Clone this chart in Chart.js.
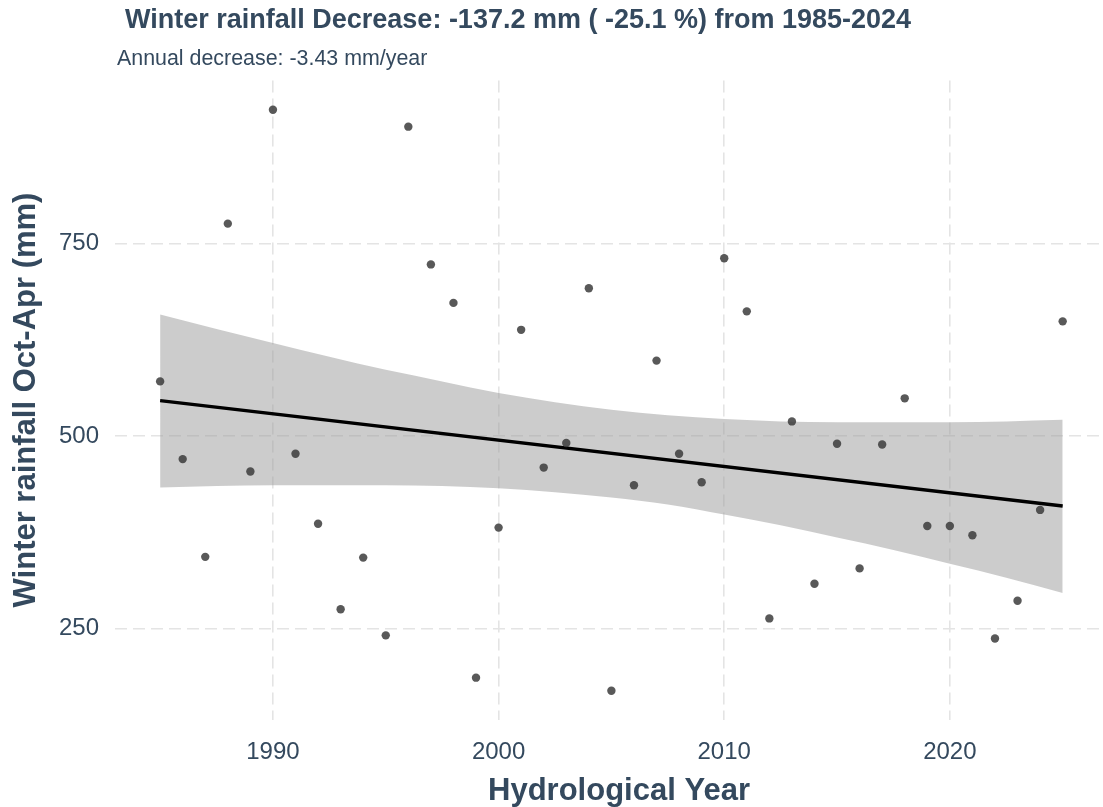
<!DOCTYPE html>
<html>
<head>
<meta charset="utf-8">
<script src="https://cdn.jsdelivr.net/npm/chart.js@4.4.1/dist/chart.umd.min.js"></script>
<style>
  html, body { margin: 0; padding: 0; background: #ffffff; overflow: hidden; }
  #wrap { position: relative; width: 1112px; height: 807px; }
  canvas { display: block; }
</style>
</head>
<body>
<div id="wrap"><canvas id="c" width="1112" height="807"></canvas></div>
<script>
// ---- data ----
const years = [1985, 1986, 1987, 1988, 1989, 1990, 1991, 1992, 1993, 1994,
               1995, 1996, 1997, 1998, 1999, 2000, 2001, 2002, 2003, 2004,
               2005, 2006, 2007, 2008, 2009, 2010, 2011, 2012, 2013, 2014,
               2015, 2016, 2017, 2018, 2019, 2020, 2021, 2022, 2023, 2024, 2025];
const rainfall = [571, 470, 343, 776, 454, 924, 477, 386, 275, 342,
                  241, 902, 723, 673, 186, 381, 638, 459, 491, 692,
                  169, 436, 598, 477, 440, 731, 662, 263, 519, 308,
                  490, 328, 489, 549, 383, 383, 371, 237, 286, 404, 649];

// trend line ends
const trendYears = [1985, 2025];
const trendValues = [546, 409];

// confidence band
const bandYears = [1985, 1987.5, 1990, 1992.5, 1995, 1997.5, 2000, 2002.5, 2005,
                   2007.5, 2010, 2012.5, 2015, 2017.5, 2020, 2022.5, 2025];
const bandUpper = [658, 639, 621, 603, 586, 571, 556, 544, 534,
                   527, 522, 519, 518, 518, 518, 519, 521];
const bandLower = [433, 435, 436, 436, 436, 435, 432, 427, 420,
                   411, 398, 384, 368, 352, 334, 316, 296];

const xTicks = [1990, 2000, 2010, 2020];
const yTicks = [250, 500, 750];

const titleText = 'Winter rainfall Decrease: -137.2 mm ( -25.1 %) from 1985-2024';
const subtitleText = 'Annual decrease: -3.43 mm/year';
const xTitle = 'Hydrological Year';
const yTitle = 'Winter rainfall Oct-Apr (mm)';

// ---- chart ----
const FONT = "'Liberation Sans', Arial, Helvetica, sans-serif";
const TEXT = '#34495e';

const pts = years.map((y, i) => ({ x: y, y: rainfall[i] }));
const trend = trendYears.map((y, i) => ({ x: y, y: trendValues[i] }));
const up = bandYears.map((y, i) => ({ x: y, y: bandUpper[i] }));
const lo = bandYears.map((y, i) => ({ x: y, y: bandLower[i] }));

const textPlugin = {
  id: 'texts',
  afterDraw(chart) {
    const ctx = chart.ctx;
    ctx.save();
    ctx.fillStyle = TEXT;
    ctx.textBaseline = 'alphabetic';
    ctx.textAlign = 'left';
    ctx.font = 'bold 27px ' + FONT;
    ctx.fillText(titleText, 125, 28);
    ctx.font = '21.4px ' + FONT;
    ctx.fillText(subtitleText, 117, 65);
    ctx.font = 'bold 31px ' + FONT;
    ctx.textAlign = 'center';
    ctx.fillText(xTitle, 619, 800);
    ctx.translate(35, 400);
    ctx.rotate(-Math.PI / 2);
    ctx.fillText(yTitle, 0, 0);
    ctx.restore();
  }
};

new Chart(document.getElementById('c'), {
  type: 'scatter',
  data: {
    datasets: [
      {
        type: 'scatter',
        data: pts,
        backgroundColor: 'rgba(60,60,60,0.85)',
        borderColor: 'rgba(60,60,60,0.85)',
        pointRadius: 4.2,
        pointBorderWidth: 0,
        order: 0
      },
      {
        type: 'line',
        data: trend,
        borderColor: '#000000',
        borderWidth: 3.5,
        pointRadius: 0,
        fill: false,
        order: 1
      },
      {
        type: 'line',
        data: up,
        borderWidth: 0,
        borderColor: 'rgba(0,0,0,0)',
        pointRadius: 0,
        cubicInterpolationMode: 'monotone',
        fill: '+1',
        backgroundColor: 'rgba(153,153,153,0.5)',
        order: 2
      },
      {
        type: 'line',
        data: lo,
        borderWidth: 0,
        borderColor: 'rgba(0,0,0,0)',
        pointRadius: 0,
        cubicInterpolationMode: 'monotone',
        fill: false,
        order: 3
      }
    ]
  },
  options: {
    responsive: false,
    animation: false,
    events: [],
    layout: { padding: { top: 80.5, right: 2, left: 0, bottom: 0 } },
    plugins: {
      legend: { display: false },
      tooltip: { enabled: false },
      title: { display: false }
    },
    scales: {
      x: {
        type: 'linear',
        min: 1983,
        max: 2027,
        afterFit(s) { s.height = 807 - 720; },
        afterBuildTicks(s) { s.ticks = xTicks.map(v => ({ value: v })); },
        border: { display: false, dash: [12, 6] },
        grid: {
          color: '#e4e4e4',
          lineWidth: 1.6,
          drawTicks: false
        },
        ticks: {
          padding: 18,
          color: TEXT,
          font: { family: FONT, size: 24 },
          maxRotation: 0,
          callback: v => String(v)
        }
      },
      y: {
        type: 'linear',
        min: 131,
        max: 962,
        afterFit(s) { s.width = 115; },
        afterBuildTicks(s) { s.ticks = yTicks.map(v => ({ value: v })); },
        border: { display: false, dash: [12, 6] },
        grid: {
          color: '#e4e4e4',
          lineWidth: 1.6,
          drawTicks: false
        },
        ticks: {
          padding: 16,
          color: TEXT,
          font: { family: FONT, size: 24 },
          callback: v => String(v)
        }
      }
    }
  },
  plugins: [textPlugin]
});
</script>
</body>
</html>
